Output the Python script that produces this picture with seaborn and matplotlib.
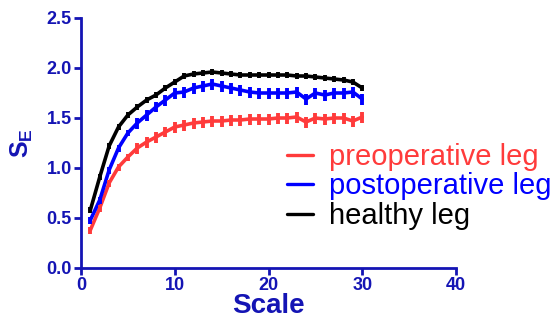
import numpy as np
import pandas as pd
import matplotlib
matplotlib.use('Agg')
import matplotlib.pyplot as plt
import seaborn as sns

# data
scale = list(range(1, 31))
pre_mean = [0.38, 0.60, 0.85, 1.01, 1.11, 1.20, 1.26, 1.31, 1.36, 1.41,
            1.43, 1.45, 1.46, 1.47, 1.47, 1.48, 1.48, 1.49, 1.49, 1.49,
            1.50, 1.50, 1.51, 1.46, 1.50, 1.49, 1.50, 1.50, 1.47, 1.51]
post_mean = [0.48, 0.68, 0.98, 1.20, 1.35, 1.45, 1.53, 1.61, 1.68, 1.75,
             1.76, 1.80, 1.82, 1.84, 1.82, 1.80, 1.78, 1.76, 1.75, 1.75,
             1.75, 1.75, 1.76, 1.69, 1.75, 1.73, 1.75, 1.75, 1.76, 1.69]
healthy_mean = [0.58, 0.91, 1.22, 1.41, 1.53, 1.61, 1.68, 1.73, 1.80, 1.86,
                1.92, 1.94, 1.95, 1.96, 1.95, 1.94, 1.93, 1.93, 1.93, 1.93,
                1.93, 1.93, 1.92, 1.92, 1.91, 1.90, 1.89, 1.88, 1.86, 1.80]
pre_err = [0.035] * 5 + [0.055] * 25
post_err = [0.035] * 5 + [0.055] * 25
healthy_err = [0.03] * 30
labels = ['preoperative leg', 'postoperative leg', 'healthy leg']
colors = ['#FF3B3B', '#0000FF', '#000000']

axis_blue = '#1414B4'

sns.set_theme(style='white')
plt.rcParams['font.family'] = ['Liberation Sans', 'DejaVu Sans']
plt.rcParams['mathtext.fontset'] = 'custom'
plt.rcParams['mathtext.bf'] = 'Liberation Sans:bold'
plt.rcParams['mathtext.rm'] = 'Liberation Sans'

# long format table for seaborn
df = pd.DataFrame({
    'Scale': scale * 3,
    'SE': pre_mean + post_mean + healthy_mean,
    'err': pre_err + post_err + healthy_err,
    'group': [labels[0]] * 30 + [labels[1]] * 30 + [labels[2]] * 30,
})

fig = plt.figure(figsize=(5.56, 3.26), dpi=100)
ax = fig.add_axes([81 / 556, 58 / 326, 375 / 556, 250 / 326])

sns.lineplot(data=df, x='Scale', y='SE', hue='group', palette=colors,
             linewidth=2.6, ax=ax, legend=False, zorder=3)
for lab, col in zip(labels, colors):
    sub = df[df['group'] == lab]
    ax.errorbar(sub['Scale'], sub['SE'], yerr=sub['err'], fmt='none',
                ecolor=col, elinewidth=2.8, capsize=0, zorder=3)

ax.set_xlim(0, 40)
ax.set_ylim(0, 2.5)
ax.set_xticks([0, 10, 20, 30, 40])
ax.set_yticks([0, 0.5, 1.0, 1.5, 2.0, 2.5])
ax.set_yticklabels(['0.0', '0.5', '1.0', '1.5', '2.0', '2.5'])

for s in ['top', 'right']:
    ax.spines[s].set_visible(False)
for s in ['left', 'bottom']:
    ax.spines[s].set_color(axis_blue)
    ax.spines[s].set_linewidth(2)
ax.tick_params(axis='both', direction='out', length=5, width=2,
               color=axis_blue, labelcolor=axis_blue, labelsize=13, pad=1.5,
               left=True, bottom=True)
for t in ax.get_xticklabels() + ax.get_yticklabels():
    t.set_fontweight('bold')

ax.set_xlabel('Scale', fontsize=20, fontweight='bold', color=axis_blue, labelpad=-1)
ax.set_ylabel(r'$\mathbf{S_E}$', fontsize=18, color=axis_blue, labelpad=8)

# legend with coloured labels
handles = [plt.Line2D([], [], color=c, linewidth=2.4) for c in colors]
fig.legend(handles, labels, loc='upper left', bbox_to_anchor=(287 / 556, 1 - 143 / 326),
           frameon=False, fontsize=21, labelcolor=colors, handlelength=0.9,
           handletextpad=0.55, labelspacing=0.05, borderpad=0, borderaxespad=0)

fig.savefig('out.png', dpi=100)
